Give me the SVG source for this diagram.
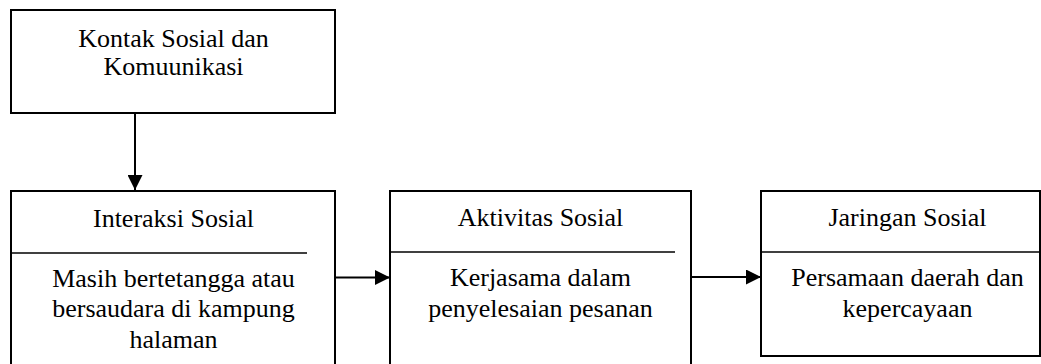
<svg xmlns="http://www.w3.org/2000/svg" width="1041" height="364" viewBox="0 0 1041 364">
  <style>
    .box { fill: #ffffff; stroke: #000000; stroke-width: 2; }
    .sep { stroke: #000000; stroke-width: 1.6; fill: none; }
    .label { font-size: 26px; fill: #000000; text-anchor: middle; }
    .link { stroke: #000000; stroke-width: 2; fill: none; marker-end: url(#head); }
  </style>
  <defs>
    <marker id="head" viewBox="0 0 15 15" refX="15" refY="7.5" markerWidth="15" markerHeight="15" markerUnits="userSpaceOnUse" orient="auto">
      <path d="M0,0 L15,7.5 L0,15 Z" fill="#000000"/>
    </marker>
  </defs>
  <rect width="1041" height="364" fill="#ffffff"/>

  <g font-family="'Liberation Serif', 'DejaVu Serif', 'Times New Roman', serif">
    <!-- Top node -->
    <g id="kontak-sosial">
      <rect class="box" x="11" y="10" width="324" height="103"/>
      <text class="label" x="173.5" y="47">Kontak Sosial dan</text>
      <text class="label" x="173.5" y="75">Komuunikasi</text>
    </g>

    <!-- Interaction node -->
    <g id="interaksi-sosial">
      <rect class="box" x="11" y="191" width="324" height="190"/>
      <line class="sep" x1="11" y1="253" x2="307" y2="253"/>
      <text class="label" x="173.5" y="226.5">Interaksi Sosial</text>
      <text class="label" x="173.5" y="286.5">Masih bertetangga atau</text>
      <text class="label" x="173.5" y="316.5">bersaudara di kampung</text>
      <text class="label" x="173.5" y="347.5">halaman</text>
    </g>

    <!-- Activity node -->
    <g id="aktivitas-sosial">
      <rect class="box" x="390" y="191" width="301" height="190"/>
      <line class="sep" x1="390" y1="252" x2="675" y2="252"/>
      <text class="label" x="540.5" y="226">Aktivitas Sosial</text>
      <text class="label" x="540.5" y="286">Kerjasama dalam</text>
      <text class="label" x="540.5" y="316.5">penyelesaian pesanan</text>
    </g>

    <!-- Network node -->
    <g id="jaringan-sosial">
      <rect class="box" x="761" y="191" width="279" height="165"/>
      <line class="sep" x1="761" y1="252" x2="1040" y2="252"/>
      <text class="label" x="907.5" y="226">Jaringan Sosial</text>
      <text class="label" x="907.5" y="286">Persamaan daerah dan</text>
      <text class="label" x="907.5" y="316.5">kepercayaan</text>
    </g>
  </g>

  <!-- Connectors -->
  <g id="connectors">
    <line class="link" x1="135" y1="113" x2="135" y2="190"/>
    <line class="link" x1="335" y1="277.5" x2="390" y2="277.5"/>
    <line class="link" x1="691" y1="277" x2="761" y2="277"/>
  </g>
</svg>
